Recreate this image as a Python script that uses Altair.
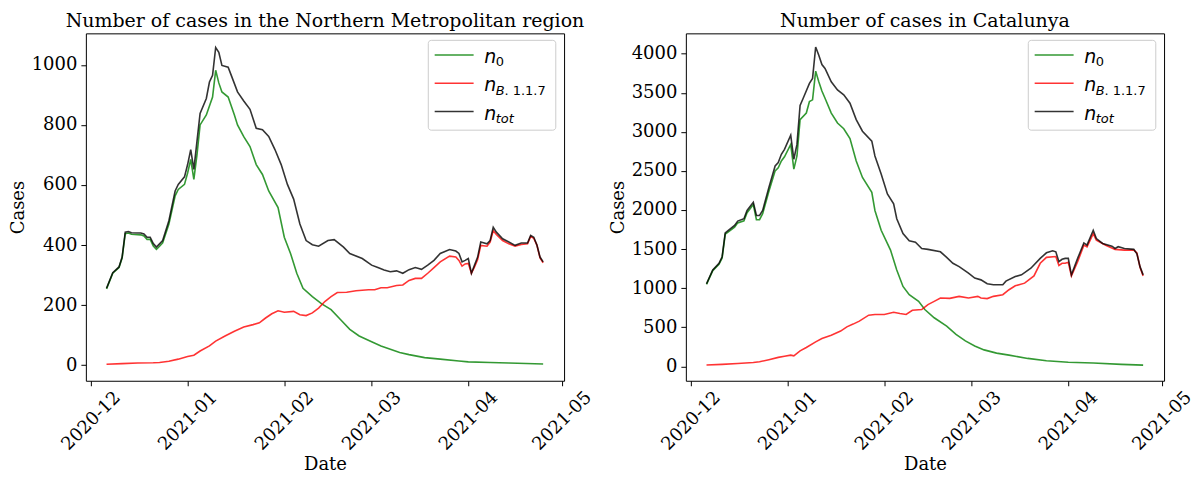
import altair as alt
import pandas as pd

START = "2020-12-01"  # day offsets below are counted from this date

# ---------------- Northern Metropolitan region ----------------
nm_n0_day = [5, 7, 9, 10, 11, 12, 13, 16, 17, 18, 19, 20, 21, 22, 23, 25, 27, 28, 30, 31,
             32, 33, 34, 35, 37, 39, 40, 41, 42, 44, 46, 47, 49, 51, 53, 55, 57, 60, 62, 64,
             66, 68, 71, 74, 77, 80, 83, 86, 90, 93, 96, 99, 102, 107, 112, 118, 121, 128, 134, 145]
nm_n0 = [254, 306, 325, 357, 438, 440, 436, 434, 430, 419, 419, 397, 386, 396, 407, 470, 564, 585, 602, 640,
         685, 619, 700, 800, 833, 893, 982, 940, 910, 893, 833, 800, 761, 728, 668, 635, 580, 525, 426, 372,
         306, 256, 228, 204, 185, 152, 119, 97, 78, 64, 53, 42, 35, 25, 20, 14, 11, 9, 7, 4]

nm_b117_day = [5, 10, 15, 20, 22, 25, 28, 31, 33, 35, 38, 40, 43, 46, 49, 52, 54, 56, 58, 60,
               62, 65, 67, 69, 71, 73, 75, 77, 79, 82, 85, 89, 91, 93, 95, 98, 100, 102, 104, 106,
               108, 110, 112, 115, 117, 118, 119, 120, 121, 122, 123, 124, 125, 127, 128, 129, 130, 132, 134, 136,
               138, 140, 141, 142, 143, 144, 145]
nm_b117 = [3, 5, 7, 8, 9, 13, 20, 29, 33, 47, 64, 80, 97, 113, 127, 135, 141, 157, 171, 181,
           176, 179, 168, 165, 174, 190, 212, 228, 242, 243, 248, 251, 251, 258, 258, 265, 267, 282, 289, 289,
           306, 325, 344, 363, 360, 349, 330, 337, 339, 306, 327, 352, 399, 396, 410, 448, 435, 415, 404, 396,
           402, 404, 429, 422, 400, 357, 341]

nm_tot_day = [5, 7, 9, 10, 11, 12, 13, 16, 17, 18, 19, 20, 21, 22, 23, 25, 27, 28, 30, 31,
              32, 33, 34, 35, 37, 38, 39, 40, 41, 42, 44, 45, 47, 49, 51, 53, 55, 57, 59, 61,
              63, 65, 67, 69, 71, 73, 76, 78, 81, 83, 87, 90, 92, 94, 96, 98, 100, 102, 104, 106,
              108, 110, 112, 115, 117, 118, 119, 120, 121, 122, 123, 124, 125, 127, 128, 129, 130, 132, 134, 136,
              138, 140, 141, 142, 143, 144, 145]
nm_tot = [256, 308, 327, 360, 443, 445, 441, 440, 437, 426, 426, 405, 393, 404, 415, 481, 580, 602, 627, 668,
          718, 652, 745, 838, 888, 943, 965, 1058, 1042, 998, 992, 965, 910, 880, 852, 789, 784, 762, 718, 668,
          602, 553, 470, 415, 401, 396, 415, 418, 393, 372, 355, 333, 325, 317, 311, 314, 306, 318, 325, 319,
          333, 349, 372, 385, 380, 372, 344, 349, 355, 306, 333, 360, 410, 404, 415, 459, 443, 421, 410, 399,
          407, 407, 432, 426, 400, 360, 344]

# ---------------- Catalunya ----------------
cat_n0_day = [5, 7, 9, 10, 11, 12, 14, 15, 17, 18, 20, 21, 22, 23, 25, 27, 28, 29, 30, 32,
              33, 34, 35, 37, 38, 39, 40, 41, 42, 43, 45, 47, 49, 51, 53, 55, 58, 59, 61, 64,
              66, 68, 70, 73, 75, 78, 82, 85, 88, 91, 94, 98, 102, 108, 114, 121, 129, 138, 145]
cat_n0 = [1048, 1225, 1305, 1385, 1690, 1720, 1780, 1835, 1862, 1965, 2070, 1876, 1876, 1952, 2240, 2501, 2540, 2627, 2680, 2839,
          2522, 2691, 3156, 3240, 3388, 3409, 3777, 3641, 3523, 3430, 3240, 3113, 3040, 2915, 2627, 2416, 2226, 1994, 1740, 1487,
          1233, 1022, 916, 831, 726, 621, 515, 409, 325, 261, 210, 169, 143, 101, 71, 51, 42, 25, 15]

cat_b117_day = [5, 10, 15, 20, 22, 25, 28, 30, 32, 33, 35, 37, 40, 42, 45, 48, 50, 52, 54, 57,
                59, 62, 65, 67, 69, 71, 74, 76, 78, 80, 83, 86, 89, 92, 93, 95, 97, 100, 102, 104,
                107, 110, 112, 114, 117, 118, 119, 120, 121, 122, 124, 126, 127, 129, 130, 133, 136, 139, 142, 143,
                144, 145]
cat_b117 = [16, 25, 35, 48, 58, 85, 114, 128, 143, 134, 198, 241, 312, 355, 397, 451, 505, 540, 578, 654,
            663, 663, 692, 676, 663, 717, 726, 790, 831, 874, 869, 895, 874, 895, 874, 866, 895, 916, 980, 1030,
            1064, 1157, 1318, 1394, 1405, 1290, 1318, 1318, 1330, 1157, 1338, 1550, 1529, 1698, 1613, 1550, 1496, 1487, 1487, 1450,
            1267, 1157]

cat_tot_day = [5, 7, 9, 10, 11, 12, 14, 15, 17, 18, 20, 21, 22, 23, 25, 27, 28, 29, 30, 32,
               33, 34, 35, 36, 38, 39, 40, 41, 42, 43, 45, 47, 49, 51, 53, 55, 58, 59, 61, 63,
               65, 66, 68, 70, 72, 74, 76, 80, 82, 84, 86, 89, 91, 93, 95, 97, 100, 101, 104, 106,
               109, 112, 114, 116, 117, 118, 119, 120, 121, 122, 123, 124, 126, 127, 129, 130, 132, 135, 136, 137,
               139, 142, 143, 144, 145]
cat_tot = [1056, 1233, 1318, 1402, 1706, 1740, 1803, 1858, 1888, 1994, 2099, 1930, 1930, 1994, 2289, 2564, 2606, 2712, 2776, 2957,
           2649, 2839, 3337, 3430, 3620, 3683, 4085, 3980, 3861, 3810, 3641, 3536, 3473, 3366, 3156, 3008, 2881, 2691, 2459, 2205,
           2079, 1888, 1698, 1605, 1588, 1508, 1496, 1465, 1394, 1318, 1275, 1191, 1128, 1106, 1056, 1043, 1043, 1090, 1148, 1170,
           1255, 1381, 1452, 1478, 1465, 1338, 1369, 1381, 1381, 1170, 1275, 1381, 1579, 1550, 1740, 1635, 1572, 1537, 1508, 1530,
           1508, 1496, 1440, 1275, 1170]

titles = ["Number of cases in the Northern Metropolitan region", "Number of cases in Catalunya"]
month_ticks = ["2020-12-01", "2021-01-01", "2021-02-01", "2021-03-01", "2021-04-01", "2021-05-01"]
nm_yticks = [0, 200, 400, 600, 800, 1000]
cat_yticks = [0, 500, 1000, 1500, 2000, 2500, 3000, 3500, 4000]
SERIES = ["n0", "nB117", "ntot"]
COLORS = ["green", "red", "black"]

W, H = 479, 348
SERIF = "DejaVu Serif"


def dt(ts):
    t = pd.Timestamp(ts)
    return alt.DateTime(year=t.year, month=t.month, date=t.day, hours=t.hour)


X_DOMAIN = [dt("2020-11-29 09:00"), dt("2021-05-01 17:00")]
X_TICKS = [dt(m) for m in month_ticks]


def frame(days, vals, name):
    return pd.DataFrame({
        "date": pd.Timestamp(START) + pd.to_timedelta(days, unit="D"),
        "cases": vals,
        "series": name,
    })


LEG_SUBS = [[("0", "normal", 0)], [("B", "italic", 0), (". 1.1.7", "normal", 8.8)], [("tot", "italic", 0)]]


def legend_layers():
    base = alt.Chart(pd.DataFrame({"k": [0]}))
    out = [base.mark_rect(fill="white", stroke="#cccccc", strokeWidth=1, cornerRadius=3).encode(
        x=alt.value(W - 136), x2=alt.value(W - 8.3), y=alt.value(7), y2=alt.value(97))]
    for i, (color, subs) in enumerate(zip(COLORS, LEG_SUBS)):
        ry = 21.7 + 28.3 * i
        out.append(base.mark_rule(color=color, strokeWidth=1.5, opacity=0.8).encode(
            x=alt.value(W - 129.6), x2=alt.value(W - 90.6), y=alt.value(ry)))
        out.append(base.mark_text(text="n", font="DejaVu Sans", fontSize=19, fontStyle="italic",
                                  align="left", baseline="alphabetic", color="black").encode(
            x=alt.value(W - 80), y=alt.value(ry + 8)))
        for txt, style, dx in subs:
            out.append(base.mark_text(text=txt, font="DejaVu Sans", fontSize=13, fontStyle=style,
                                      align="left", baseline="alphabetic", color="black").encode(
                x=alt.value(W - 68.5 + dx), y=alt.value(ry + 11.5)))
    return out


def panel(title, frames, ydom, yticks):
    df = pd.concat(frames, ignore_index=True)
    lines = alt.Chart(df).mark_line(strokeWidth=1.6, opacity=0.8).encode(
        x=alt.X("date:T", scale=alt.Scale(domain=X_DOMAIN, nice=False),
                axis=alt.Axis(values=X_TICKS, format="%Y-%m", title="Date", labelAngle=315,
                              labelAlign="center", labelBaseline="middle", labelPadding=35,
                              labelOverlap=False, labelFlush=False, titlePadding=2)),
        y=alt.Y("cases:Q", scale=alt.Scale(domain=ydom, nice=False, zero=False),
                axis=alt.Axis(values=yticks, format="d", title="Cases", labelPadding=4, titlePadding=4,
                              labelOverlap=False)),
        color=alt.Color("series:N", scale=alt.Scale(domain=SERIES, range=COLORS), legend=None),
    )
    return alt.layer(lines, *legend_layers()).properties(
        width=W, height=H,
        title=alt.TitleParams(text=title, font=SERIF, fontSize=19, fontWeight="normal", color="black",
                              anchor="middle", frame="group", baseline="alphabetic", offset=-13),
    )


left = panel(titles[0], [frame(nm_n0_day, nm_n0, "n0"), frame(nm_b117_day, nm_b117, "nB117"),
                         frame(nm_tot_day, nm_tot, "ntot")], [-52, 1105], nm_yticks)
right = panel(titles[1], [frame(cat_n0_day, cat_n0, "n0"), frame(cat_b117_day, cat_b117, "nB117"),
                          frame(cat_tot_day, cat_tot, "ntot")], [-185, 4260], cat_yticks)

chart = alt.hconcat(left, right, spacing=122, bounds="flush").properties(
    padding={"left": 0, "top": 3, "right": 0, "bottom": 0}
).configure_view(stroke="black", strokeWidth=1).configure_axis(
    labelFont=SERIF, labelFontSize=18, labelColor="black",
    titleFont=SERIF, titleFontSize=18, titleFontWeight="normal", titleColor="black",
    tickColor="black", tickSize=5, tickWidth=1, grid=False, domain=False,
)

chart.save("out.html", embed_options={"renderer": "svg", "actions": False})
